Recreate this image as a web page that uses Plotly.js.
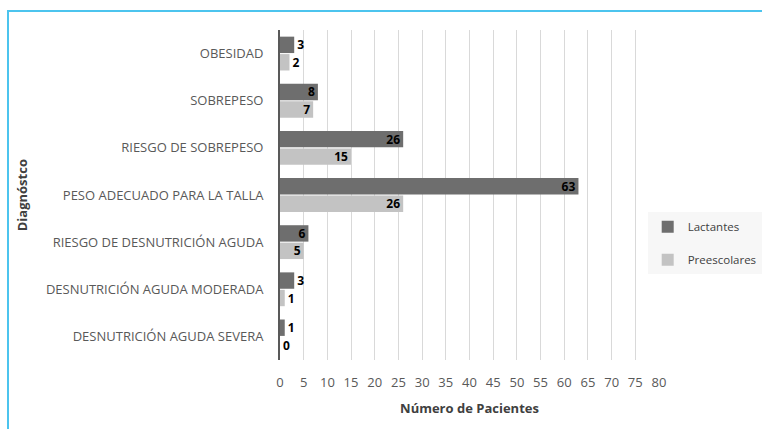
<!DOCTYPE html>
<html>
<head>
<meta charset="utf-8">
<script src="https://cdn.plot.ly/plotly-3.0.1.min.js"></script>
<style>
  body { margin: 0; background: #fff; }
  #wrap { position: relative; width: 762px; height: 429px; overflow: hidden; }
  #chart { width: 762px; height: 429px; }
  #frame {
    position: absolute; left: 7px; top: 10px; width: 800px; height: 460px;
    border: 2px solid #4cc4ee; pointer-events: none;
  }
</style>
</head>
<body>
<div id="wrap">
  <div id="chart"></div>
  <div id="frame"></div>
</div>
<script>
// Diagnósticos (de arriba hacia abajo)
const diagnosticos = [
  "OBESIDAD",
  "SOBREPESO",
  "RIESGO DE SOBREPESO",
  "PESO ADECUADO PARA LA TALLA",
  "RIESGO DE DESNUTRICIÓN AGUDA",
  "DESNUTRICIÓN AGUDA MODERADA",
  "DESNUTRICIÓN AGUDA SEVERA",
];
const lactantes = [3, 8, 26, 63, 6, 3, 1];
const preescolares = [2, 7, 15, 26, 5, 1, 0];
const xTicks = [0, 5, 10, 15, 20, 25, 30, 35, 40, 45, 50, 55, 60, 65, 70, 75, 80];

const fontFamily = "Open Sans, Lato, sans-serif";
const labelFont = { family: fontFamily, size: 12, color: "#000", weight: "bold" };

function barTrace(name, values, color, group) {
  return {
    type: "bar",
    orientation: "h",
    name: name,
    legendgroup: group,
    y: diagnosticos,
    x: values,
    text: values.map(String),
    // etiquetas pequeñas fuera de la barra, como en Excel
    textposition: values.map((v) => (v >= 5 ? "inside" : "outside")),
    insidetextanchor: "end",
    textangle: 0,
    constraintext: "none",
    cliponaxis: false,
    textfont: labelFont,
    insidetextfont: labelFont,
    outsidetextfont: labelFont,
    marker: { color: color, line: { width: 0 } },
    hoverinfo: "none",
  };
}

const traces = [
  barTrace("Lactantes", lactantes, "#6e6e6e", "a"),
  barTrace("Preescolares", preescolares, "#c3c3c3", "b"),
];

const layout = {
  width: 762,
  height: 429,
  margin: { l: 280, r: 103, t: 30, b: 69, autoexpand: false },
  paper_bgcolor: "#fff",
  plot_bgcolor: "#fff",
  font: { family: fontFamily, size: 13, color: "#595959" },
  barmode: "group",
  bargap: 0.26,
  bargroupgap: 0.06,
  showlegend: true,
  legend: {
    xref: "container",
    yref: "container",
    x: 0.85,
    y: 0.505,
    xanchor: "left",
    yanchor: "top",
    bgcolor: "#f7f7f7",
    traceorder: "grouped",
    tracegroupgap: 14,
    itemwidth: 30,
    font: { family: fontFamily, size: 11.5, color: "#404040" },
  },
  xaxis: {
    range: [0, 80],
    tickvals: xTicks,
    ticktext: xTicks.map(String),
    showgrid: true,
    gridcolor: "#d9d9d9",
    gridwidth: 1,
    zeroline: false,
    showline: false,
    ticks: "outside",
    ticklen: 10,
    tickcolor: "rgba(0,0,0,0)",
    tickfont: { family: fontFamily, size: 13, color: "#595959" },
    title: {
      text: "Número de Pacientes",
      font: { family: fontFamily, size: 13, color: "#404040", weight: "bold" },
      standoff: 14,
    },
    fixedrange: true,
  },
  yaxis: {
    type: "category",
    autorange: "reversed",
    showgrid: false,
    zeroline: false,
    showline: true,
    linecolor: "#595959",
    linewidth: 2,
    ticks: "outside",
    ticklen: 12,
    tickcolor: "rgba(0,0,0,0)",
    tickfont: { family: fontFamily, size: 13, color: "#595959" },
    fixedrange: true,
  },
  annotations: [
    {
      text: "Diagnóstco",
      xref: "paper",
      yref: "paper",
      x: -0.68,
      y: 0.5,
      xanchor: "center",
      yanchor: "middle",
      textangle: -90,
      showarrow: false,
      font: { family: fontFamily, size: 13, color: "#404040", weight: "bold" },
    },
  ],
};

Plotly.newPlot("chart", traces, layout, { displayModeBar: false, staticPlot: true });
</script>
</body>
</html>
